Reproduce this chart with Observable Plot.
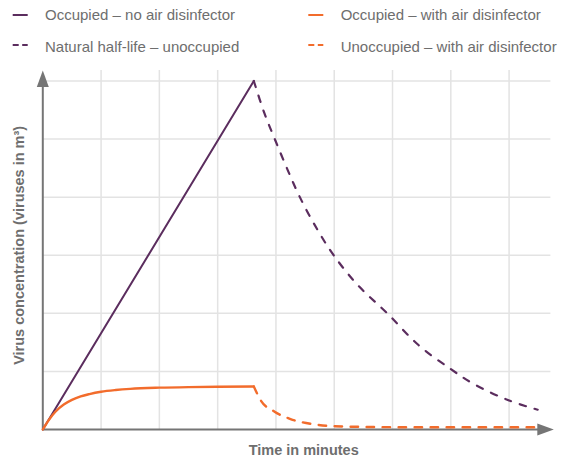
<!DOCTYPE html>
<html>
<head>
<meta charset="utf-8">
<script src="https://cdn.jsdelivr.net/npm/d3@7"></script>
<script src="https://cdn.jsdelivr.net/npm/@observablehq/plot@0.6"></script>
<style>
  html, body { margin: 0; padding: 0; background: #fff; }
  body { width: 572px; height: 461px; overflow: hidden; font-family: "Liberation Sans", Arial, sans-serif; }
  svg { display: block; }
</style>
</head>
<body>
<div id="legend"></div>
<div id="chart"></div>
<script>
// ---- data ----
const legendLabels = [
  "Occupied – no air disinfector",
  "Occupied – with air disinfector",
  "Natural half-life – unoccupied",
  "Unoccupied – with air disinfector"
];

// Occupied – no air disinfector (solid purple)
const occT = [0, 3.62];
const occV = [0, 6.0];

// Natural half-life – unoccupied (dashed purple)
const natT = [3.62, 3.8, 3.98, 4.2, 4.41, 4.7, 4.99, 5.4, 5.91, 6.45, 7.0, 7.4, 8.0, 8.49];
const natV = [6.0, 5.45, 5.0, 4.47, 4.0, 3.46, 3.0, 2.49, 2.0, 1.45, 1.04, 0.78, 0.5, 0.34];

// Occupied – with air disinfector (solid orange)
const disT = [0, 0.1, 0.22, 0.36, 0.5, 0.65, 0.8, 1.0, 1.25, 1.5, 2.0, 2.5, 3.0, 3.62];
const disV = [0, 0.16, 0.31, 0.43, 0.51, 0.57, 0.61, 0.65, 0.68, 0.70, 0.72, 0.73, 0.735, 0.74];

// Unoccupied – with air disinfector (dashed orange)
const unoT = [3.62, 3.74, 3.97, 4.25, 4.65, 5.0, 5.5, 6.0, 7.0, 8.49];
const unoV = [0.74, 0.5, 0.31, 0.18, 0.09, 0.055, 0.045, 0.04, 0.04, 0.04];

// grid positions (no tick labels in the reference)
const gridX = [1, 2, 3, 4, 5, 6, 7, 8];
const gridY = [1, 2, 3, 4, 5, 6];

const xLabel = "Time in minutes";
const yLabel = "Virus concentration (viruses in m³)";

// ---- styling ----
const purple = "#5b2d5e";
const orange = "#f26c2c";
const gridColor = "#e3e3e3";
const axisColor = "#757575";
const textColor = "#6e6e6e";
const font = "Liberation Sans, Arial, sans-serif";

const xMax = 8.767, yMax = 6.18;

const toRows = (ts, vs) => ts.map((t, i) => ({t, v: vs[i]}));

// ---- legend (above the plot) ----
const legendItems = [
  {label: legendLabels[0], color: purple, dash: null, sx: 12.7, tx: 45, sy: 15, by: 20},
  {label: legendLabels[1], color: orange, dash: null, sx: 308.3, tx: 340.7, sy: 15, by: 20},
  {label: legendLabels[2], color: purple, dash: "6,3.5", sx: 12.7, tx: 45, sy: 45, by: 51.5},
  {label: legendLabels[3], color: orange, dash: "6,3.5", sx: 308.3, tx: 340.7, sy: 45, by: 51.5}
];
const leg = d3.select("#legend").append("svg").attr("width", 572).attr("height", 60);
const g = leg.selectAll("g").data(legendItems).join("g");
g.append("line")
  .attr("x1", d => d.sx).attr("x2", d => d.sx + 15)
  .attr("y1", d => d.sy).attr("y2", d => d.sy)
  .attr("stroke", d => d.color).attr("stroke-width", 2)
  .attr("stroke-dasharray", d => d.dash);
g.append("text")
  .attr("x", d => d.tx).attr("y", d => d.by)
  .attr("fill", textColor)
  .attr("font-family", font)
  .attr("font-size", 15)
  .text(d => d.label);

// ---- arrowhead symbol (tip at origin, pointing up) ----
const arrowHead = {
  draw(ctx) {
    ctx.moveTo(0, 0);
    ctx.lineTo(6, 16.5);
    ctx.lineTo(-6, 16.5);
    ctx.closePath();
  }
};

const chart = Plot.plot({
  width: 572,
  height: 401,
  marginLeft: 42.3,
  marginRight: 18.7,
  marginTop: 10,
  marginBottom: 32,
  x: {domain: [0, xMax], axis: null},
  y: {domain: [0, yMax], axis: null},
  style: {fontFamily: font, background: "#fff"},
  marks: [
    Plot.ruleX(gridX, {x: d => d, y1: 0, y2: yMax, stroke: gridColor, strokeWidth: 1.5}),
    Plot.ruleY(gridY, {y: d => d, x1: 0, x2: xMax - 0.05, stroke: gridColor, strokeWidth: 1.5}),
    Plot.ruleX([0], {x: d => d, y1: 0, y2: yMax - 0.1, stroke: axisColor, strokeWidth: 2}),
    Plot.ruleY([0], {y: d => d, x1: 0, x2: xMax - 0.1, stroke: axisColor, strokeWidth: 2}),
    Plot.dot([0], {x: 0, y: yMax, symbol: arrowHead, fill: axisColor, stroke: "none"}),
    Plot.dot([0], {x: xMax, y: 0, symbol: arrowHead, fill: axisColor, stroke: "none", rotate: 90}),
    Plot.line(toRows(occT, occV), {x: "t", y: "v", stroke: purple, strokeWidth: 2}),
    Plot.line(toRows(natT, natV), {x: "t", y: "v", stroke: purple, strokeWidth: 2.2, strokeDasharray: "6.5,9", curve: "catmull-rom"}),
    Plot.line(toRows(disT, disV), {x: "t", y: "v", stroke: orange, strokeWidth: 2.4, curve: "monotone-x"}),
    Plot.line(toRows(unoT, unoV), {x: "t", y: "v", stroke: orange, strokeWidth: 2.4, strokeDasharray: "7.5,8.5", curve: "monotone-x"}),
    Plot.text([xLabel], {text: d => d, x: 4.476, y: 0, dy: 21, fill: textColor, fontWeight: "bold", fontSize: 14.5, fontFamily: font}),
    Plot.text([yLabel], {text: d => d, x: 0, y: 3.17, dx: -23.3, rotate: -90, fill: textColor, fontWeight: "bold", fontSize: 14.5, fontFamily: font})
  ]
});
document.getElementById("chart").appendChild(chart);
</script>
</body>
</html>
